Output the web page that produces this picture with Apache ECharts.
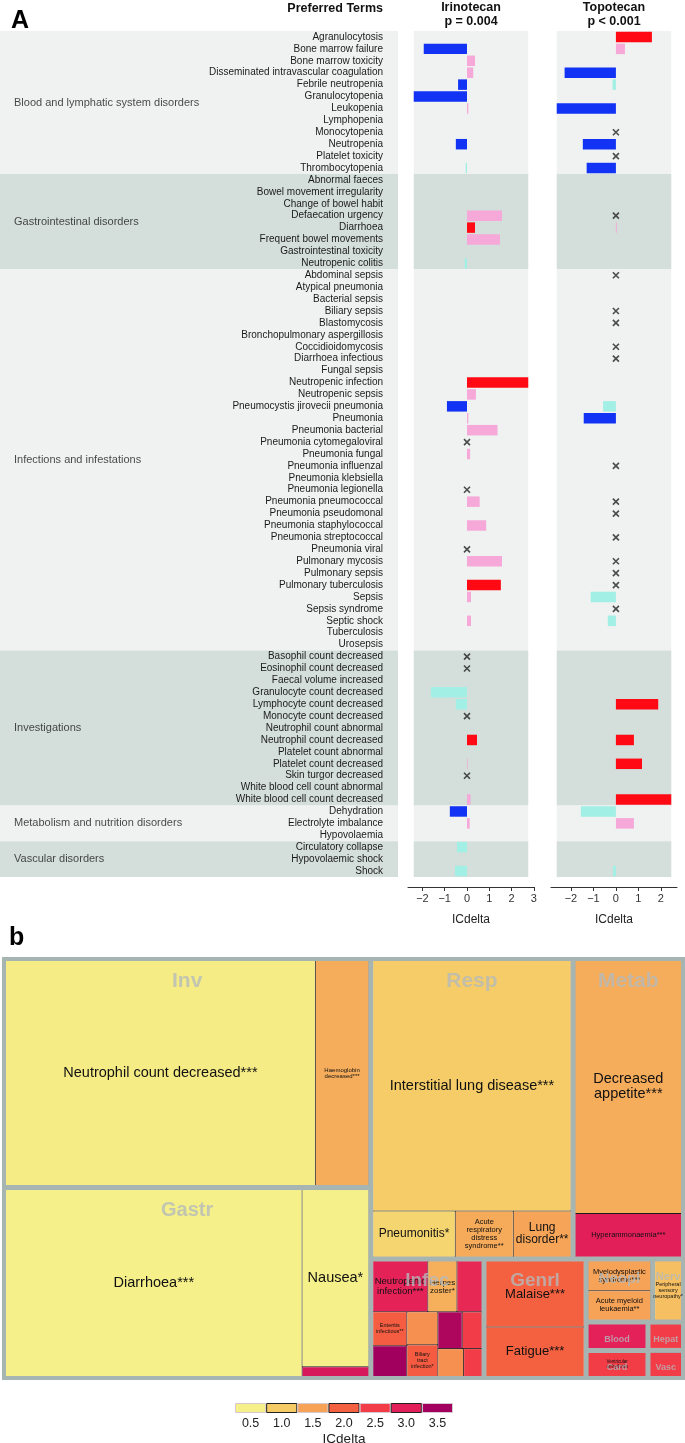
<!DOCTYPE html>
<html><head><meta charset="utf-8">
<script src="https://cdn.jsdelivr.net/npm/echarts@6/dist/echarts.min.js"></script>
<style>html,body{margin:0;padding:0;background:#fff}#c{width:685px;height:1443px}</style>
</head><body><div id="c"></div>
<script>
// ---------------- Panel A data ----------------
const socNames = ['Blood and lymphatic system disorders','Gastrointestinal disorders','Infections and infestations','Investigations','Metabolism and nutrition disorders','Vascular disorders'];
const socSizes = [12, 8, 32, 13, 3, 3];
const terms = [
'Agranulocytosis','Bone marrow failure','Bone marrow toxicity','Disseminated intravascular coagulation','Febrile neutropenia','Granulocytopenia','Leukopenia','Lymphopenia','Monocytopenia','Neutropenia','Platelet toxicity','Thrombocytopenia',
'Abnormal faeces','Bowel movement irregularity','Change of bowel habit','Defaecation urgency','Diarrhoea','Frequent bowel movements','Gastrointestinal toxicity','Neutropenic colitis',
'Abdominal sepsis','Atypical pneumonia','Bacterial sepsis','Biliary sepsis','Blastomycosis','Bronchopulmonary aspergillosis','Coccidioidomycosis','Diarrhoea infectious','Fungal sepsis','Neutropenic infection','Neutropenic sepsis','Pneumocystis jirovecii pneumonia','Pneumonia','Pneumonia bacterial','Pneumonia cytomegaloviral','Pneumonia fungal','Pneumonia influenzal','Pneumonia klebsiella','Pneumonia legionella','Pneumonia pneumococcal','Pneumonia pseudomonal','Pneumonia staphylococcal','Pneumonia streptococcal','Pneumonia viral','Pulmonary mycosis','Pulmonary sepsis','Pulmonary tuberculosis','Sepsis','Sepsis syndrome','Septic shock','Tuberculosis','Urosepsis',
'Basophil count decreased','Eosinophil count decreased','Faecal volume increased','Granulocyte count decreased','Lymphocyte count decreased','Monocyte count decreased','Neutrophil count abnormal','Neutrophil count decreased','Platelet count abnormal','Platelet count decreased','Skin turgor decreased','White blood cell count abnormal','White blood cell count decreased',
'Dehydration','Electrolyte imbalance','Hypovolaemia',
'Circulatory collapse','Hypovolaemic shock','Shock'];

const drugTitles = ['Irinotecan', 'Topotecan'];
const drugP = ['p = 0.004', 'p < 0.001'];

const iriValues = [
 null,-1.94,0.36,0.28,-0.40,-2.39,0.06,null,null,-0.50,null,-0.06,
 null,null,null,1.57,0.36,1.48,null,-0.10,
 null,null,null,null,null,null,null,null,null,2.75,0.40,-0.90,0.06,1.37,null,0.14,null,null,null,0.57,null,0.86,null,null,1.57,null,1.52,0.18,null,0.18,null,null,
 null,null,null,-1.62,-0.50,null,null,0.45,null,0.03,null,null,0.16,
 -0.77,0.12,null,
 -0.45,null,-0.54];
const iriSig = [
 0,1,0,0,1,1,0,0,0,1,0,0,
 0,0,0,0,1,0,0,0,
 0,0,0,0,0,0,0,0,0,1,0,1,0,0,0,0,0,0,0,0,0,0,0,0,0,0,1,0,0,0,0,0,
 0,0,0,0,0,0,0,1,0,0,0,0,0,
 1,0,0,
 0,0,0];
const iriCrossTerms = ['Pneumonia cytomegaloviral','Pneumonia legionella','Pneumonia viral','Basophil count decreased','Eosinophil count decreased','Monocyte count decreased','Skin turgor decreased'];

const topoValues = [
 1.60,0.40,null,-2.28,-0.15,null,-2.63,null,null,-1.47,null,-1.30,
 null,null,null,null,0.04,null,null,null,
 null,null,null,null,null,null,null,null,null,null,null,-0.57,-1.43,null,null,null,null,null,null,null,null,null,null,null,null,null,null,-1.12,null,-0.36,null,null,
 null,null,null,null,1.88,null,null,0.80,null,1.16,null,null,2.46,
 -1.56,0.80,null,
 null,null,-0.13];
const topoSig = [
 1,0,0,1,0,0,1,0,0,1,0,1,
 0,0,0,0,0,0,0,0,
 0,0,0,0,0,0,0,0,0,0,0,0,1,0,0,0,0,0,0,0,0,0,0,0,0,0,0,0,0,0,0,0,
 0,0,0,0,1,0,0,1,0,1,0,0,1,
 0,0,0,
 0,0,0];
const topoCrossTerms = ['Monocytopenia','Platelet toxicity','Defaecation urgency','Abdominal sepsis','Biliary sepsis','Blastomycosis','Coccidioidomycosis','Diarrhoea infectious','Pneumonia influenzal','Pneumonia pneumococcal','Pneumonia pseudomonal','Pneumonia streptococcal','Pulmonary mycosis','Pulmonary sepsis','Pulmonary tuberculosis','Sepsis syndrome'];

const iriTicks = [-2, -1, 0, 1, 2, 3];
const topoTicks = [-2, -1, 0, 1, 2];

// ---------------- Panel b data ----------------
const tmGroups = ['Inv','Gastr','Resp','Metab','Infec','Genrl','Neopl','Nerv','Blood','Card','Hepat','Vasc'];
const tmLeafGroup = ['Inv','Inv','Gastr','Gastr','Gastr','Resp','Resp','Resp','Resp','Metab','Metab',
 'Infec','Infec','Infec','Infec','Infec','Infec','Infec','Infec','Infec','Infec','Infec',
 'Genrl','Genrl','Neopl','Neopl','Nerv','Blood','Card','Hepat','Vasc'];
const tmLeafName = ['Neutrophil count decreased***','Haemoglobin\ndecreased***','Diarrhoea***','Nausea*','',
 'Interstitial lung disease***','Pneumonitis*','Acute\nrespiratory\ndistress\nsyndrome**','Lung\ndisorder**',
 'Decreased\nappetite***','Hyperammonaemia***',
 'Neutropenic\ninfection***','Herpes\nzoster*','','Enteritis\ninfectious**','','','Biliary\ntract\ninfection*','','','','',
 'Malaise***','Fatigue***','Myelodysplastic\nsyndrome***','Acute myeloid\nleukaemia**','Peripheral\nsensory\nneuropathy*','','Ventricular\narrhythmia','',''];
const tmLeafSize = [71990,12420,57410,12240,680,
 51500,3950,2780,2770,
 28400,4900,
 3007,1585,1367,1239,1130,1100,1057,964,781,774,550,
 7000,5240,2110,2090,1950,1760,1740,1010,1000];
const tmLeafIC = [0.55,1.37,0.5,0.5,3.1,
 0.98,0.86,1.39,1.46,
 1.36,3.0,
 2.95,1.33,2.85,2.05,3.5,1.64,2.08,3.4,2.5,1.64,2.5,
 2.0,2.0,1.5,1.5,1.15,2.97,2.48,2.5,2.5];
const legendValues = [0.5, 1.0, 1.5, 2.0, 2.5, 3.0, 3.5];

// ---------------- styles ----------------
const FONT = '"Liberation Sans", Arial, Helvetica, sans-serif';
const palette = ['#f5f08a','#f5cb66','#f6a257','#f46140','#f23c47','#e31f5a','#a1005e'];
const tmLeafFont = [14.5,6,14.5,14.5,8, 14.5,12,7.5,12, 14.5,7.5, 9.5,8,8,5.5,8,8,5.5,8,8,8,8, 13,13,7.5,7.5,5.5,8,4.5,8,8];
const tmGroupFont = [21,20,21,21,19,19,15,11,9,9,9,9];
const bandColors = ['#eff2f1', '#d4dedb'];

function hex2rgb(h){return [parseInt(h.slice(1,3),16),parseInt(h.slice(3,5),16),parseInt(h.slice(5,7),16)];}
function icColor(v){
  let t = (v - legendValues[0]) / 0.5;
  t = Math.max(0, Math.min(palette.length - 1, t));
  const i = Math.min(palette.length - 2, Math.floor(t));
  const f = t - i;
  const a = hex2rgb(palette[i]), b = hex2rgb(palette[i+1]);
  const c = a.map((x,k)=>Math.round(x + (b[k]-x)*f));
  return 'rgb(' + c.join(',') + ')';
}
function barColor(v, s){ if (v < 0) return s ? '#1233f4' : '#a2efe5'; return s ? '#ff0a14' : '#f6a8d8'; }
function fmt(v){ return v < 0 ? '\u2212' + (-v) : '' + v; }

const socStart = []; { let acc = 0; socSizes.forEach(n => { socStart.push(acc); acc += n; }); }
const nRows = terms.length;
function range(vals){ const v = vals.filter(x => x != null); return [Math.min(...v), Math.max(...v)]; }
function bands(x0, x1){
  return socSizes.map((n,k)=>[{xAxis:x0, yAxis:socStart[k]-0.5, itemStyle:{color:bandColors[k%2]}},{xAxis:x1, yAxis:socStart[k]+n-0.5}]);
}
const iriR = range(iriValues), topoR = range(topoValues);
function expand(r){ const d = (r[1]-r[0])*0.05; return [r[0]-d, r[1]+d]; }
const iriAx = expand(iriR), topoAx = expand(topoR);

const gridTop = 31, gridH = 846;

function xAxisFor(gi, ax, ticks){
  return {gridIndex:gi, type:'value', min:ax[0], max:ax[1], offset:10,
    axisLine:{show:true, onZero:false, lineStyle:{color:'#333', width:1}},
    axisTick:{show:true, customValues:ticks, length:4, lineStyle:{color:'#333'}},
    axisLabel:{customValues:ticks, formatter:fmt, fontSize:11, color:'#333', margin:6, fontFamily:FONT},
    splitLine:{show:false},
    name:'ICdelta', nameLocation:'middle', nameGap:27, nameTextStyle:{fontSize:12, color:'#222', fontFamily:FONT}};
}
const crossSymbol = 'path://M0,0L10,10M10,0L0,10';

function barSeries(xi, yi, vals, sig){
  return {type:'bar', xAxisIndex:xi, yAxisIndex:yi, barWidth:'88%', z:3,
    data: vals.map((v,i)=> v == null ? '-' : {value:v, itemStyle:{color:barColor(v, sig[i])}})};
}
function crossSeries(xi, yi, crossTerms, r){
  return {type:'scatter', xAxisIndex:xi, yAxisIndex:yi, symbol:crossSymbol, symbolSize:6, z:4,
    itemStyle:{color:'rgba(0,0,0,0)', borderColor:'#222', borderWidth:1.6},
    data: crossTerms.map(t => [0, terms.indexOf(t)]),
    markArea:{silent:true, z:1, data:bands(r[0], r[1])}};
}

// treemap data
const tmData = tmGroups.map(g => ({name:g, children:[]}));
tmLeafName.forEach((n,i)=>{
  const g = tmData[tmGroups.indexOf(tmLeafGroup[i])];
  g.children.push({id:'leaf'+i, name:n, value:tmLeafSize[i], itemStyle:{color:icColor(tmLeafIC[i])}, label:{fontSize:tmLeafFont[i]}});
});
const tmOverlay = tmGroups.map((g,k)=>({name:g, value:tmData[k].children.reduce((s,c)=>s+c.value,0), label:{fontSize:tmGroupFont[k]}}));
const tmBox = {left:2, top:957, width:683, height:423};
const SQ = 1.33;

const option = {
  animation:false,
  textStyle:{fontFamily:FONT},
  grid:[
    {left:0, top:gridTop, width:398, height:gridH, outerBoundsMode:'none', containLabel:false},
    {left:408, top:gridTop, width:126, height:gridH, outerBoundsMode:'none', containLabel:false},
    {left:551, top:gridTop, width:126, height:gridH, outerBoundsMode:'none', containLabel:false},
    {left:235, top:1403, width:218, height:10, outerBoundsMode:'none', containLabel:false}
  ],
  xAxis:[
    {gridIndex:0, type:'value', min:0, max:1, show:false},
    xAxisFor(1, iriAx, iriTicks),
    xAxisFor(2, topoAx, topoTicks),
    {gridIndex:3, type:'category', data:legendValues.map(v=>v.toFixed(1)),
     axisLine:{show:false}, axisTick:{show:false},
     axisLabel:{fontSize:12.5, color:'#222', margin:4, fontFamily:FONT},
     name:'ICdelta', nameLocation:'middle', nameGap:19, nameTextStyle:{fontSize:13.5, color:'#222', fontFamily:FONT}}
  ],
  yAxis:[
    {gridIndex:0, type:'value', min:-0.5, max:nRows-0.5, inverse:true, show:false},
    {gridIndex:1, type:'category', data:terms, inverse:true, z:10, axisLine:{show:false}, axisTick:{show:false},
     axisLabel:{interval:0, margin:25, fontSize:10, color:'#1a1a1a', fontFamily:FONT}},
    {gridIndex:1, type:'value', min:-0.5, max:nRows-0.5, inverse:true, show:false},
    {gridIndex:2, type:'category', data:terms, inverse:true, show:false},
    {gridIndex:2, type:'value', min:-0.5, max:nRows-0.5, inverse:true, show:false},
    {gridIndex:3, type:'value', min:0, max:1, show:false}
  ],
  series:[
    {type:'scatter', xAxisIndex:0, yAxisIndex:0, symbolSize:0,
     data: socNames.map((n,k)=>({name:n, value:[0, socStart[k] + (socSizes[k]-1)/2]})),
     label:{show:true, position:'right', distance:14, formatter:'{b}', fontSize:11, color:'#1a1a1a', fontFamily:FONT},
     markArea:{silent:true, z:1, data:bands(0, 1)}},
    barSeries(1, 1, iriValues, iriSig),
    crossSeries(1, 2, iriCrossTerms, iriR),
    barSeries(2, 3, topoValues, topoSig),
    crossSeries(2, 4, topoCrossTerms, topoR),
    {type:'bar', xAxisIndex:3, yAxisIndex:5, barWidth:'100%',
     data: legendValues.map((v,i)=>({value:1, itemStyle:{color:icColor(v), borderColor: i%2 ? '#222' : '#d9c8d2', borderWidth:1}}))},
    Object.assign({type:'treemap', roam:false, nodeClick:false, breadcrumb:{show:false}, squareRatio:SQ,
     label:{show:true, position:'inside', align:'center', verticalAlign:'middle', color:'#111', fontFamily:FONT, overflow:'none', padding:0},
     upperLabel:{show:false},
     emphasis:{disabled:true},
     levels:[
       {itemStyle:{borderColor:'#a7b5b2', borderWidth:4, gapWidth:5}},
       {itemStyle:{borderColor:'#1a1a1a', borderWidth:0, gapWidth:1}},
       {itemStyle:{borderWidth:0, gapWidth:0}}
     ],
     data: tmData}, tmBox),
    Object.assign({type:'treemap', roam:false, nodeClick:false, breadcrumb:{show:false}, squareRatio:SQ, silent:true, z:5,
     label:{show:true, position:'insideTop', distance:5, color:'rgba(180,186,188,0.78)', fontWeight:'bold', fontFamily:FONT, overflow:'none'},
     upperLabel:{show:false},
     emphasis:{disabled:true},
     levels:[
       {itemStyle:{borderColor:'rgba(0,0,0,0)', borderWidth:4, gapWidth:5}},
       {itemStyle:{color:'rgba(0,0,0,0)', borderWidth:0, borderColor:'rgba(0,0,0,0)'}}
     ],
     data: tmOverlay}, tmBox)
  ],
  graphic:[
    {type:'text', x:11, y:9, style:{text:'A', font:'bold 25px ' + FONT, fill:'#000'}},
    {type:'text', x:9, y:926, style:{text:'b', font:'bold 25px ' + FONT, fill:'#000'}},
    {type:'text', x:383, y:9, style:{text:'Preferred Terms', font:'bold 12.5px ' + FONT, fill:'#111', align:'right', verticalAlign:'middle'}},
    {type:'text', x:471, y:8, style:{text:drugTitles[0], font:'bold 12.5px ' + FONT, fill:'#111', align:'center', verticalAlign:'middle'}},
    {type:'text', x:471, y:22, style:{text:drugP[0], font:'bold 12.5px ' + FONT, fill:'#111', align:'center', verticalAlign:'middle'}},
    {type:'text', x:614, y:8, style:{text:drugTitles[1], font:'bold 12.5px ' + FONT, fill:'#111', align:'center', verticalAlign:'middle'}},
    {type:'text', x:614, y:22, style:{text:drugP[1], font:'bold 12.5px ' + FONT, fill:'#111', align:'center', verticalAlign:'middle'}}
  ]
};
const chart = echarts.init(document.getElementById('c'), null, {renderer:'canvas', width:685, height:1443});
chart.setOption(option);
</script>
</body></html>
